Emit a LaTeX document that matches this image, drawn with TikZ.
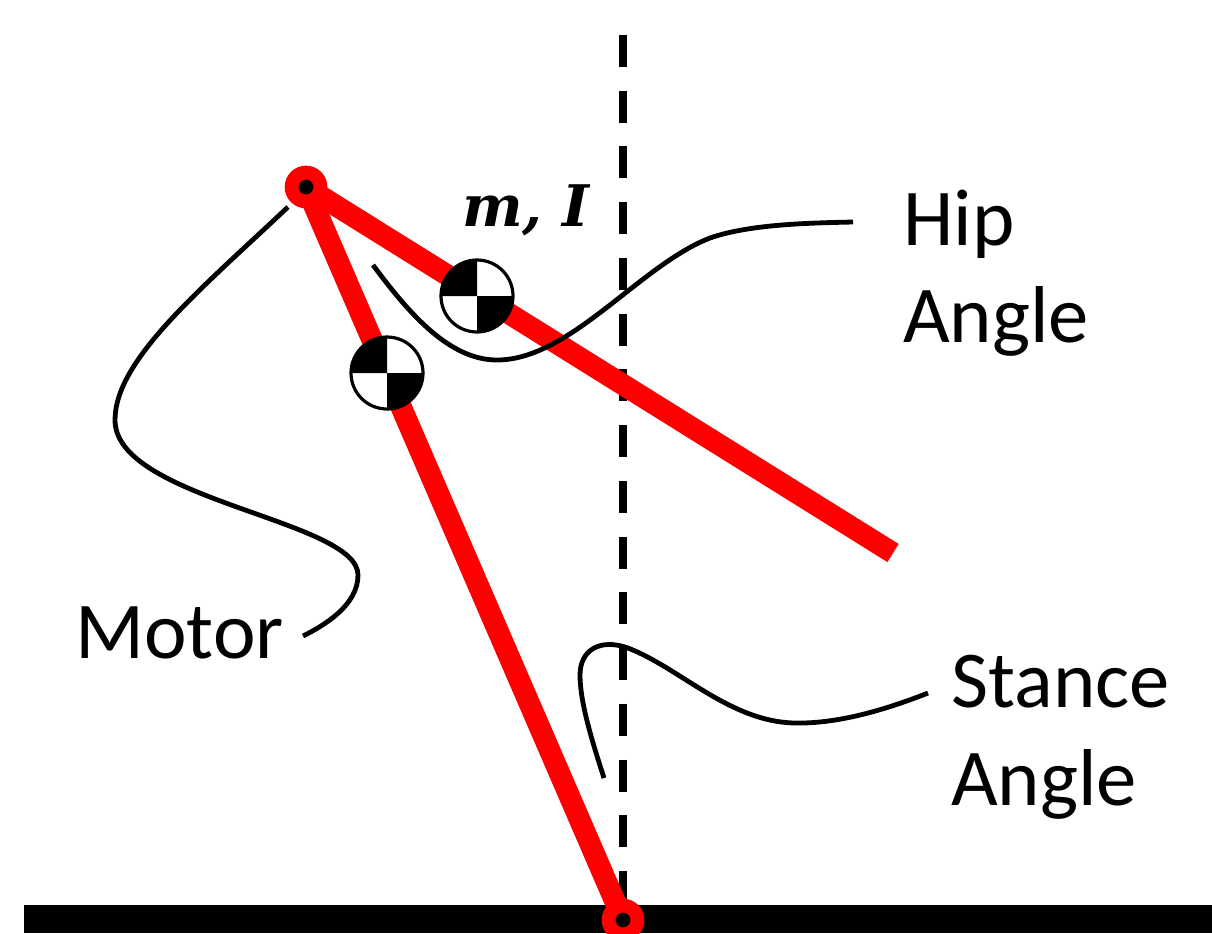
\documentclass[tikz,border=0pt]{standalone}
\usepackage{fontspec}
\setmainfont{Carlito}
\newfontfamily\massfont{DejaVu Serif}
\begin{document}
\begin{tikzpicture}[x=0.75pt,y=-0.75pt,
  link/.style={draw=red,line width=16pt},
  joint/.style={circle,fill=black,draw=red,line width=10.4pt,minimum size=21.6pt,inner sep=0pt},
  lead/.style={draw=black,line width=3.6pt},
  vert/.style={draw=black,line width=6pt,dash pattern=on 24pt off 17.8pt},
  lbl/.style={anchor=base west,inner sep=0pt,font=\fontsize{60.5}{66}\selectfont},
  comdisc/.style={circle,draw=black,fill=white,line width=2.4pt,minimum size=54pt,inner sep=0pt}]
\useasboundingbox (0,0) rectangle (1212,933);
\coordinate (top) at (623,35);
\coordinate (bot) at (623,905);
\draw[vert] (top) -- (bot);
\fill[black] (24,905) rectangle (1212,933);
\clip (0,0) rectangle (1212,933);
\coordinate (hip) at (306,187);
\coordinate (foot) at (623,920);
\coordinate (tip) at (893,553);
\draw[link] (hip) -- (tip);
\draw[link] (hip) -- (foot);
\node[comdisc] (c1) at (477,296) {};
\node[comdisc] (c2) at (387,373) {};
\foreach \n in {c1,c2}{
  \fill[black] (\n.center) -- ++(0,-36) arc[start angle=90,end angle=180,radius=27pt] -- cycle;
  \fill[black] (\n.center) -- ++(0,36) arc[start angle=-90,end angle=0,radius=27pt] -- cycle;
}
\node[joint] (hj) at (hip) {};
\node[joint] (fj) at (foot) {};
\coordinate (m0) at (288,207);
\coordinate (m1) at (303,636);
\draw[lead] (m0) .. controls (200,290) and (115,360) .. (115,420)
  .. controls (115,500) and (358,520) .. (358,575)
  .. controls (358,605) and (325,625) .. (m1);
\coordinate (h0) at (373,265);
\coordinate (h1) at (853,222);
\draw[lead] (h0) .. controls (410,315) and (450,360) .. (497,360)
  .. controls (570,360) and (640,265) .. (710,238)
  .. controls (750,224) and (810,223) .. (h1);
\coordinate (s0) at (604,778);
\coordinate (s1) at (928,693);
\draw[lead] (s0) .. controls (590,735) and (580,700) .. (580,675)
  .. controls (580,650) and (600,638) .. (628,648)
  .. controls (680,668) and (730,722) .. (795,723)
  .. controls (840,724) and (890,708) .. (s1);
\node[lbl] (hipa) at (903,245) {Hip};
\node[lbl] (hipb) at (903,342) {Angle};
\node[lbl] (mot) at (75,658) {Motor};
\node[lbl] (sta) at (951,707) {Stance};
\node[lbl] (stb) at (951,805) {Angle};
\node[anchor=base west,inner sep=0pt,font=\massfont\bfseries\itshape\fontsize{43}{48}\selectfont] (mi) at (462,226) {m, I};
\end{tikzpicture}
\end{document}
